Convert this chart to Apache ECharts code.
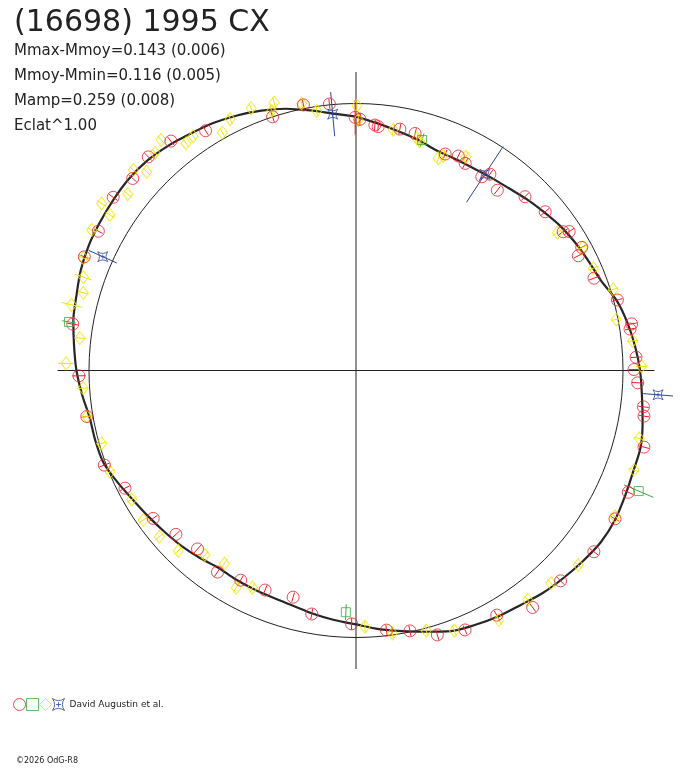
<!DOCTYPE html>
<html>
<head>
<meta charset="utf-8">
<script src="https://cdn.jsdelivr.net/npm/echarts@6/dist/echarts.min.js"></script>
<style>
  html, body { margin: 0; padding: 0; background: #fff; }
  #chart { width: 688px; height: 768px; }
</style>
</head>
<body>
<div id="chart"></div>
<script>
// phase in degrees (0 at top, clockwise), radius relative to the mean circle (1.0)
var curvePhase = [0,5,10,15,20,25,30,35,40,45,50,55,60,65,70,75,80,85,90,95,100,105,110,115,120,125,130,135,140,145,150,155,160,165,170,175,180,185,190,195,200,205,210,215,220,225,230,235,240,245,250,255,260,265,270,275,280,285,290,295,300,305,310,315,320,325,330,335,340,345,350,355,360];
var curveRad = [0.951,0.929,0.910,0.895,0.878,0.875,0.876,0.882,0.891,0.906,0.921,0.938,0.951,0.963,0.978,1.011,1.032,1.049,1.064,1.075,1.090,1.104,1.105,1.112,1.120,1.120,1.110,1.099,1.088,1.073,1.064,1.052,1.039,1.013,0.991,0.972,0.951,0.938,0.925,0.912,0.906,0.904,0.903,0.901,0.914,0.927,0.938,0.951,0.966,0.987,1.007,1.011,1.013,1.030,1.047,1.060,1.075,1.084,1.097,1.105,1.108,1.111,1.113,1.109,1.097,1.082,1.070,1.054,1.036,1.015,0.989,0.966,0.951];

var redPhase = [341.8,348.8,354.3,359.8,0.9,4.4,5.2,10.3,14.0,22.4,25.5,27.8,33.0,34.3,38.1,44.2,50.0,56.2,56.9,61.4,62.7,68.8,74.9,80.4,81.4,87.3,89.8,92.5,97.2,99.0,104.9,114.1,119.8,127.3,135.8,143.3,150.1,157.2,162.9,168.3,173.3,181.0,190.3,195.5,202.5,208.8,214.5,221.6,227.7,233.9,243.0,249.4,260.3,268.9,279.3,292.7,298.4,305.5,310.7,315.8,321.1,327.9];
var redRad = [1.000,1.014,1.003,0.948,0.941,0.922,0.917,0.919,0.915,0.877,0.890,0.877,0.865,0.890,0.858,0.908,0.925,0.934,0.953,0.963,0.937,0.956,1.014,1.047,1.038,1.050,1.041,1.056,1.085,1.092,1.116,1.117,1.118,1.120,1.099,1.107,1.057,1.054,1.036,0.996,0.979,0.949,0.927,0.881,0.890,0.896,0.916,0.894,0.912,0.940,0.971,1.007,1.023,1.038,1.075,1.103,1.097,1.117,1.103,1.116,1.104,1.060];
var redErr = [0.020,0.018,0.020,0.065,0.025,0.020,0.018,0.020,0.020,0.018,0.020,0.022,0.020,0.020,0.018,0.020,0.020,0.020,0.022,0.020,0.018,0.020,0.020,0.020,0.018,0.020,0.020,0.022,0.020,0.020,0.020,0.020,0.018,0.020,0.020,0.020,0.020,0.018,0.020,0.020,0.020,0.022,0.020,0.018,0.020,0.020,0.020,0.020,0.020,0.018,0.020,0.020,0.020,0.025,0.020,0.020,0.018,0.020,0.020,0.020,0.020,0.020];

var yellowPhase = [338.2,333.4,330.7,325.2,323.2,319.8,317.3,313.5,312.0,307.7,303.3,302.3,298.0,292.4,288.9,285.9,283.0,276.7,271.4,343.0,342.0,348.5,351.4,0.2,0.5,8.8,14.7,15.6,21.2,22.1,27.2,55.6,61.5,66.7,72.5,78.9,83.9,89.2,103.5,109.7,119.4,131.2,137.5,143.2,150.2,159.3,164.9,172.1,178.0,266.3,260.3,254.0,247.6,240.1,234.9,229.8,224.6,219.3,214.3,208.9,205.5];
var yellowRad = [1.058,1.053,1.022,1.069,1.063,1.131,1.110,1.081,1.122,1.080,1.140,1.090,1.121,1.104,1.079,1.062,1.093,1.041,1.086,1.049,1.022,1.021,0.983,0.991,0.938,0.912,0.899,0.890,0.852,0.867,0.900,0.914,0.966,0.968,1.010,0.993,1.042,1.070,1.091,1.106,1.114,1.106,1.081,1.073,1.077,1.042,1.009,0.994,0.960,1.024,1.023,0.991,0.996,0.969,0.974,0.964,0.948,0.893,0.875,0.929,0.901];
var yellowErr = [0.020,0.020,0.018,0.020,0.020,0.020,0.018,0.020,0.020,0.020,0.020,0.020,0.018,0.020,0.034,0.020,0.040,0.020,0.030,0.020,0.020,0.018,0.020,0.020,0.025,0.020,0.020,0.020,0.018,0.020,0.020,0.022,0.020,0.020,0.020,0.018,0.020,0.020,0.020,0.020,0.020,0.018,0.020,0.020,0.020,0.020,0.020,0.020,0.020,0.020,0.020,0.018,0.020,0.020,0.020,0.020,0.020,0.020,0.020,0.020,0.020];

var greenPhase = [16.0,279.6,113.1,182.4];
var greenRad = [0.898,1.090,1.151,0.906];
var greenErr = [0.026,0.026,0.060,0.030];

var bluePhase = [354.8,33.3,294.2,94.6];
var blueRad = [0.964,0.879,1.040,1.135];
var blueErr = [0.083,0.125,0.058,0.056];

var titleText = '(16698) 1995 CX';
var statLines = ['Mmax-Mmoy=0.143 (0.006)', 'Mmoy-Mmin=0.116 (0.005)', 'Mamp=0.259 (0.008)', 'Eclat^1.00'];
var observer = 'David Augustin et al.';
var credit = '\u00a92026 OdG-R8';

var RED = '#e8202a', GREEN = '#3cae3c', YELLOW = '#f2e600', BLUE = '#2a44a0';
var starPath = 'path://M0,0 Q5,3.5 10,0 Q6.5,5 10,10 Q5,6.5 0,10 Q3.5,5 0,0 Z M3,5 L7,5 M5,3 L5,7';

// 1.0 on the radius axis = 267 px (the mean circle)
var UNIT = 267;
var RMAX = 1.3;

function zip(rad, phase, err) {
  return rad.map(function(r, i) {
    return err ? [r, phase[i], err[i]] : [r, phase[i]];
  });
}

function errSeries(color, rad, phase, err) {
  return {
    type: 'custom',
    coordinateSystem: 'polar',
    polarIndex: 0,
    silent: true,
    z: 3,
    data: zip(rad, phase, err),
    renderItem: function(params, api) {
      var r = api.value(0), a = api.value(1), e = api.value(2);
      var p1 = api.coord([r - e, a]);
      var p2 = api.coord([r + e, a]);
      return {
        type: 'line',
        shape: { x1: p1[0], y1: p1[1], x2: p2[0], y2: p2[1] },
        style: { stroke: color, lineWidth: 1 }
      };
    }
  };
}

function pointSeries(name, symbol, size, color, rad, phase) {
  return {
    name: name,
    type: 'scatter',
    coordinateSystem: 'polar',
    polarIndex: 0,
    symbol: symbol,
    symbolSize: size,
    z: 4,
    itemStyle: { color: 'rgba(0,0,0,0)', borderColor: color, borderWidth: 1 },
    data: zip(rad, phase)
  };
}

function hiddenAxes(polarIndex, rmax, extra) {
  var angle = {
    polarIndex: polarIndex, type: 'value', min: 0, max: 360,
    startAngle: 90, clockwise: true,
    axisLine: { show: false }, axisTick: { show: false }, axisLabel: { show: false }, splitLine: { show: false }
  };
  var radius = {
    polarIndex: polarIndex, type: 'value', min: 0, max: rmax,
    axisLine: { show: false }, axisTick: { show: false }, axisLabel: { show: false }, splitLine: { show: false }
  };
  Object.assign(angle, extra || {});
  return { angle: angle, radius: radius };
}

var dataAxes = hiddenAxes(0, RMAX);
var circleAxes = hiddenAxes(1, 1, { axisLine: { show: true, lineStyle: { color: '#222', width: 1 } } });
var crossAxes = hiddenAxes(2, 1.118, { interval: 90, splitLine: { show: true, lineStyle: { color: '#222', width: 1 } } });

var chart = echarts.init(document.getElementById('chart'), null, { renderer: 'canvas' });

var option = {
  animation: false,
  backgroundColor: '#fff',
  title: {
    left: 14,
    top: 8,
    padding: 0,
    itemGap: 1,
    text: titleText,
    textStyle: { fontFamily: 'DejaVu Sans', fontSize: 30, fontWeight: 'normal', color: '#222', lineHeight: 30 },
    subtext: statLines.join('\n'),
    subtextStyle: { fontFamily: 'DejaVu Sans', fontSize: 15, color: '#222', lineHeight: 25 }
  },
  legend: {
    left: 8,
    top: 693,
    orient: 'horizontal',
    itemWidth: 12,
    itemHeight: 12,
    itemGap: 0,
    selectedMode: false,
    data: ['r', 'g', 'y', 'b'],
    formatter: function(name) {
      return name === 'b' ? observer : '';
    },
    itemStyle: { borderWidth: 1 },
    textStyle: { fontFamily: 'DejaVu Sans', fontSize: 9, color: '#222' }
  },
  graphic: [
    {
      type: 'text',
      left: 16,
      top: 757,
      style: { text: credit, font: '8px "DejaVu Sans"', fill: '#222' }
    }
  ],
  polar: [
    { center: [356, 370.5], radius: RMAX * UNIT },
    { center: [356, 370.5], radius: UNIT },
    { center: [356, 370.5], radius: 298.5 }
  ],
  angleAxis: [dataAxes.angle, circleAxes.angle, crossAxes.angle],
  radiusAxis: [dataAxes.radius, circleAxes.radius, crossAxes.radius],
  series: [
    {
      name: 'fit',
      type: 'line',
      coordinateSystem: 'polar',
      polarIndex: 0,
      symbol: 'none',
      smooth: 0.3,
      clip: false,
      z: 2,
      lineStyle: { color: '#262626', width: 2.2 },
      data: zip(curveRad, curvePhase)
    },
    errSeries(RED, redRad, redPhase, redErr),
    errSeries(YELLOW, yellowRad, yellowPhase, yellowErr),
    errSeries(GREEN, greenRad, greenPhase, greenErr),
    errSeries(BLUE, blueRad, bluePhase, blueErr),
    pointSeries('y', 'diamond', [10, 13], YELLOW, yellowRad, yellowPhase),
    pointSeries('r', 'circle', 12, RED, redRad, redPhase),
    pointSeries('g', 'rect', 9, GREEN, greenRad, greenPhase),
    pointSeries('b', starPath, 10, BLUE, blueRad, bluePhase)
  ]
};

chart.setOption(option);
</script>
</body>
</html>
